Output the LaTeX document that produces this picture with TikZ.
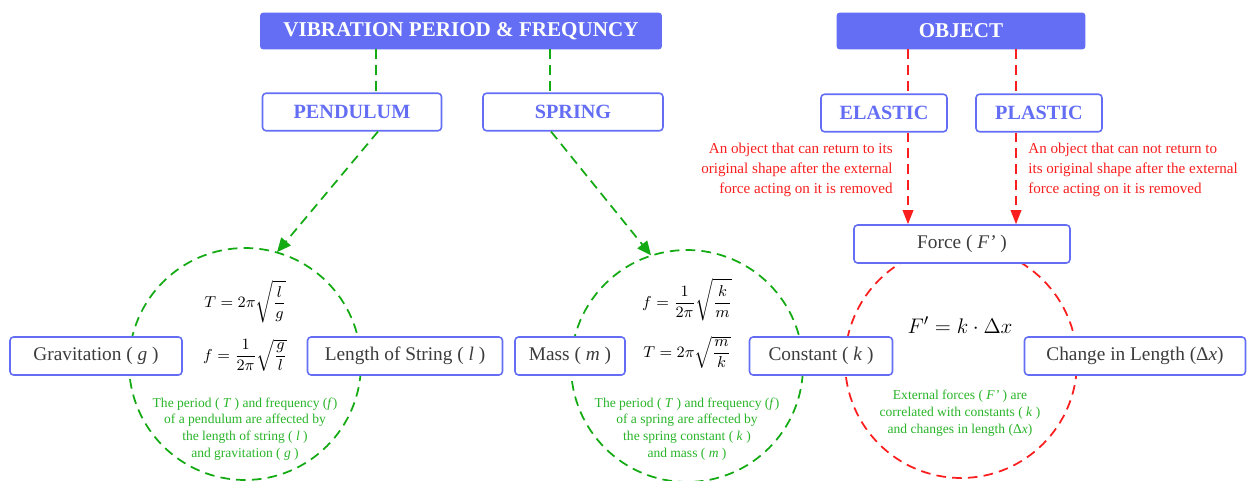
\documentclass[tikz,border=0pt]{standalone}
\usepackage{fontspec}
\setmainfont{Liberation Serif}
\usetikzlibrary{arrows.meta,shapes}
\definecolor{boxblue}{RGB}{99,110,245}
\definecolor{linegreen}{RGB}{20,170,20}
\definecolor{textgreen}{RGB}{40,180,40}
\definecolor{linered}{RGB}{250,30,30}
\definecolor{termgray}{RGB}{60,60,60}

\begin{document}
\begin{tikzpicture}[x=0.02cm,y=-0.02cm]
\tikzstyle{headbox}=[draw=boxblue, fill=boxblue, rounded corners=1.5pt, text=white, font=\fontsize{12}{14}\selectfont\bfseries, minimum height=0.72cm, inner sep=0pt]
\tikzstyle{topicbox}=[draw=boxblue, line width=0.9pt, fill=white, rounded corners=2pt, text=boxblue, font=\fontsize{11.5}{13}\selectfont\bfseries, minimum height=0.75cm, inner sep=0pt]
\tikzstyle{termbox}=[draw=boxblue, line width=0.9pt, fill=white, rounded corners=2pt, text=termgray, font=\fontsize{11}{13}\selectfont, minimum height=0.76cm, inner sep=0pt]
\tikzstyle{gdash}=[draw=linegreen, line width=1pt, dash pattern=on 5.5pt off 3.5pt]
\tikzstyle{rdash}=[draw=linered, line width=1pt, dash pattern=on 5.5pt off 3.5pt]
\tikzstyle{ring}=[shape=circle, minimum size=4.64cm, inner sep=0pt]
\tikzstyle{note}=[align=center, text=textgreen, font=\fontsize{7.7}{9.6}\selectfont]
\tikzstyle{remark}=[text=linered, font=\fontsize{8.6}{11.3}\selectfont, inner sep=0pt]
\tikzstyle{formula}=[font=\fontsize{9.5}{11}\selectfont]
\useasboundingbox (0,0) rectangle (1250,480);

% rings
\draw (245,364) node[ring] (ringP) {};
\draw (687,366) node[ring] (ringS) {};
\draw (961,362) node[ring] (ringF) {};
\draw[gdash] (ringP.center) circle (2.32cm);
\draw[gdash] (ringS.center) circle (2.32cm);
\draw[rdash] (ringF.center) circle (2.32cm);

% headings
\draw (461,31) node[headbox, minimum width=8.02cm] (title) {VIBRATION PERIOD \& FREQUNCY};
\draw (961,31) node[headbox, minimum width=4.96cm] (object) {OBJECT};

\draw (352,112) node[topicbox, minimum width=3.58cm] (pend) {PENDULUM};
\draw (573,112) node[topicbox, minimum width=3.6cm] (spring) {SPRING};
\draw (884,113) node[topicbox, minimum width=2.52cm] (elastic) {ELASTIC};
\draw (1039,113) node[topicbox, minimum width=2.52cm] (plastic) {PLASTIC};

\draw (962,244) node[termbox, minimum width=4.32cm] (force) {Force ( \textit{F’} )};

\draw (96,356) node[termbox, minimum width=3.44cm] (grav) {Gravitation ( \textit{g} )};
\draw (405,356) node[termbox, minimum width=3.9cm] (len) {Length of String ( \textit{l} )};
\draw (570,356) node[termbox, minimum width=2.2cm] (mass) {Mass ( \textit{m} )};
\draw (821,356) node[termbox, minimum width=2.86cm] (const) {Constant ( \textit{k} )};
\draw (1135,356) node[termbox, minimum width=4.42cm] (change) {Change in Length (Δ\textit{x})};

% connectors
\draw[gdash] ([xshift=0.48cm]title.south -| pend.north) -- ([xshift=0.48cm]pend.north);
\draw[gdash] ([xshift=-0.46cm]title.south -| spring.north) -- ([xshift=-0.46cm]spring.north);
\draw[rdash] ([xshift=0.48cm]object.south -| elastic.north) -- ([xshift=0.48cm]elastic.north);
\draw[rdash] ([xshift=-0.46cm]object.south -| plastic.north) -- ([xshift=-0.46cm]plastic.north);

\draw[gdash, -{Triangle[length=8pt,width=7pt]}] ([xshift=0.52cm]pend.south) -- (ringP.74);
\draw[gdash, -{Triangle[length=8pt,width=7pt]}] ([xshift=-0.44cm]spring.south) -- (ringS.108);
\draw[rdash, -{Triangle[length=8pt,width=6pt]}] ([xshift=0.48cm]elastic.south) -- ([xshift=0.48cm]elastic.south |- force.north);
\draw[rdash, -{Triangle[length=8pt,width=6pt]}] ([xshift=-0.46cm]plastic.south) -- ([xshift=-0.46cm]plastic.south |- force.north);

% remarks
\draw (893,170) node[remark, anchor=east, align=right] (elnote) {An object that can return to its\\original shape after the external\\force acting on it is removed};
\draw (1028,170) node[remark, anchor=west, align=left] (plnote) {An object that can not return to\\its original shape after the external\\force acting on it is removed};

% formulas
\draw (245,302) node[formula] (fT) {$\displaystyle T = 2\pi\sqrt{\frac{l}{g}}$};
\draw (245,355) node[formula] (ff) {$\displaystyle f = \frac{1}{2\pi}\sqrt{\frac{g}{l}}$};
\draw (687,300) node[formula] (sf) {$\displaystyle f = \frac{1}{2\pi}\sqrt{\frac{k}{m}}$};
\draw (687,352) node[formula] (sT) {$\displaystyle T = 2\pi\sqrt{\frac{m}{k}}$};
\draw (960,325) node[font=\fontsize{12.5}{14}\selectfont] (hooke) {$F^{\prime} = k\cdot\Delta x$};

\draw (245,429) node[note] (pnote) {The period ( \textit{T} ) and frequency (\textit{f})\\of a pendulum are affected by\\the length of string ( \textit{l} )\\and gravitation ( \textit{g} )};
\draw (687,429) node[note] (snote) {The period ( \textit{T} ) and frequency (\textit{f})\\of a spring are affected by\\the spring constant ( \textit{k} )\\and mass ( \textit{m} )};
\draw (960,413) node[note] (fnote) {External forces ( \textit{F’} ) are\\correlated with constants ( \textit{k} )\\and changes in length (Δ\textit{x})};

\end{tikzpicture}
\end{document}
